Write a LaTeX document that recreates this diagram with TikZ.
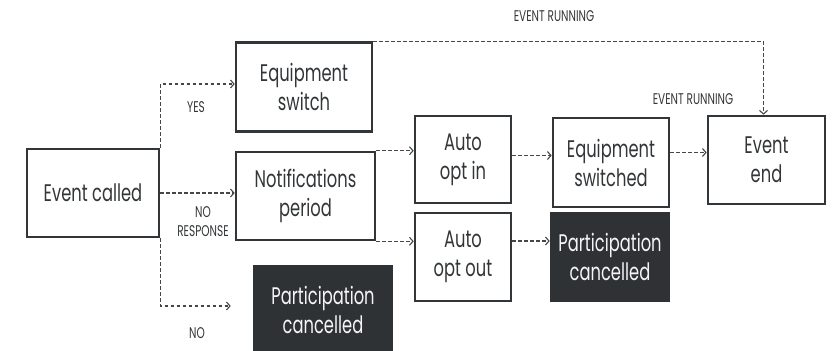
\documentclass[tikz,border=0pt]{standalone}
\usepackage{fontspec}
\setmainfont[FakeStretch=0.68]{Poppins}
\usepackage{tikz}
\usetikzlibrary{calc, positioning, arrows.meta}

\definecolor{boxline}{HTML}{333638}
\definecolor{darkfill}{HTML}{2F3235}
\definecolor{arrowgray}{HTML}{444648}

\begin{document}
\begin{tikzpicture}[
        x=1pt, y=-1pt,
        box/.style={draw=boxline, line width=2.6pt, inner sep=0pt, align=center,
            text=boxline, font=\fontsize{24}{29}\selectfont},
        darkbox/.style={box, fill=darkfill, draw=darkfill, text=white!92!gray},
        flow/.style={arrowgray, line width=1.1pt, dash pattern=on 3.5pt off 2.5pt,
            -{Straight Barb[length=3.5pt, width=8pt]}},
        tag/.style={text=boxline, font=\fontsize{15.5}{19}\selectfont, align=center, inner sep=0pt}
    ]
    \useasboundingbox (0,0) rectangle (836,351);
    \clip (0,0) rectangle (836,351);

    \node[box, minimum width=132pt, minimum height=88pt] (called) at (93,193) {Event called};
    \node[box, minimum width=136pt, minimum height=89pt] (eqswitch) at (304,87) {Equipment\\switch};
    \node[box, minimum width=139pt, minimum height=88pt] (notif) at (305.5,196) {Notifications\\period};
    \node[darkbox, minimum width=138pt, minimum height=88pt] (cancelA) at (323,310) {Participation\\cancelled};

    \node[box, minimum width=96pt, minimum height=87pt] (optin) at (463,159.5) {Auto\\opt in};
    \node[box, minimum width=96pt, minimum height=88pt] (optout) at (463,257) {Auto\\opt out};
    \node[box, minimum width=116pt, minimum height=89pt] (switched) at (611,162.5) {Equipment\\switched};
    \node[darkbox, minimum width=118pt, minimum height=88pt] (cancelB) at (610,257) {Participation\\cancelled};
    \node[box, minimum width=117pt, minimum height=88pt] (evend) at (766.5,160) {Event\\end};

    \draw[flow] (called.north east) |- ([yshift=3pt]eqswitch.west);
    \draw[flow] (called.east) -- (called.east -| notif.west);
    \draw[flow, shorten >=22pt] (called.south east) |- ([yshift=4pt]cancelA.west);

    \draw[flow] (notif.north east) -- (notif.north east -| optin.west);
    \draw[flow] (notif.south east) -- (notif.south east -| optout.west);
    \draw[flow] ([yshift=4pt]optin.east) -- ([yshift=4pt]optin.east -| switched.west);
    \draw[flow] ([yshift=10pt]switched.east) -- ([yshift=10pt]switched.east -| evend.west);
    \draw[flow] ([yshift=16pt]optout.east) -- ([yshift=16pt]optout.east -| cancelB.west);
    \draw[flow] (eqswitch.north east) -| ([xshift=-3pt]evend.north);

    \node[tag] (yes) at (196,107) {YES};
    \node[tag] (noresp) at (203,222) {NO\\RESPONSE};
    \node[tag] (no) at (197,333) {NO};
    \node[tag] (runA) at (554,16) {EVENT RUNNING};
    \node[tag] (runB) at (693,99) {EVENT RUNNING};
\end{tikzpicture}
\end{document}
